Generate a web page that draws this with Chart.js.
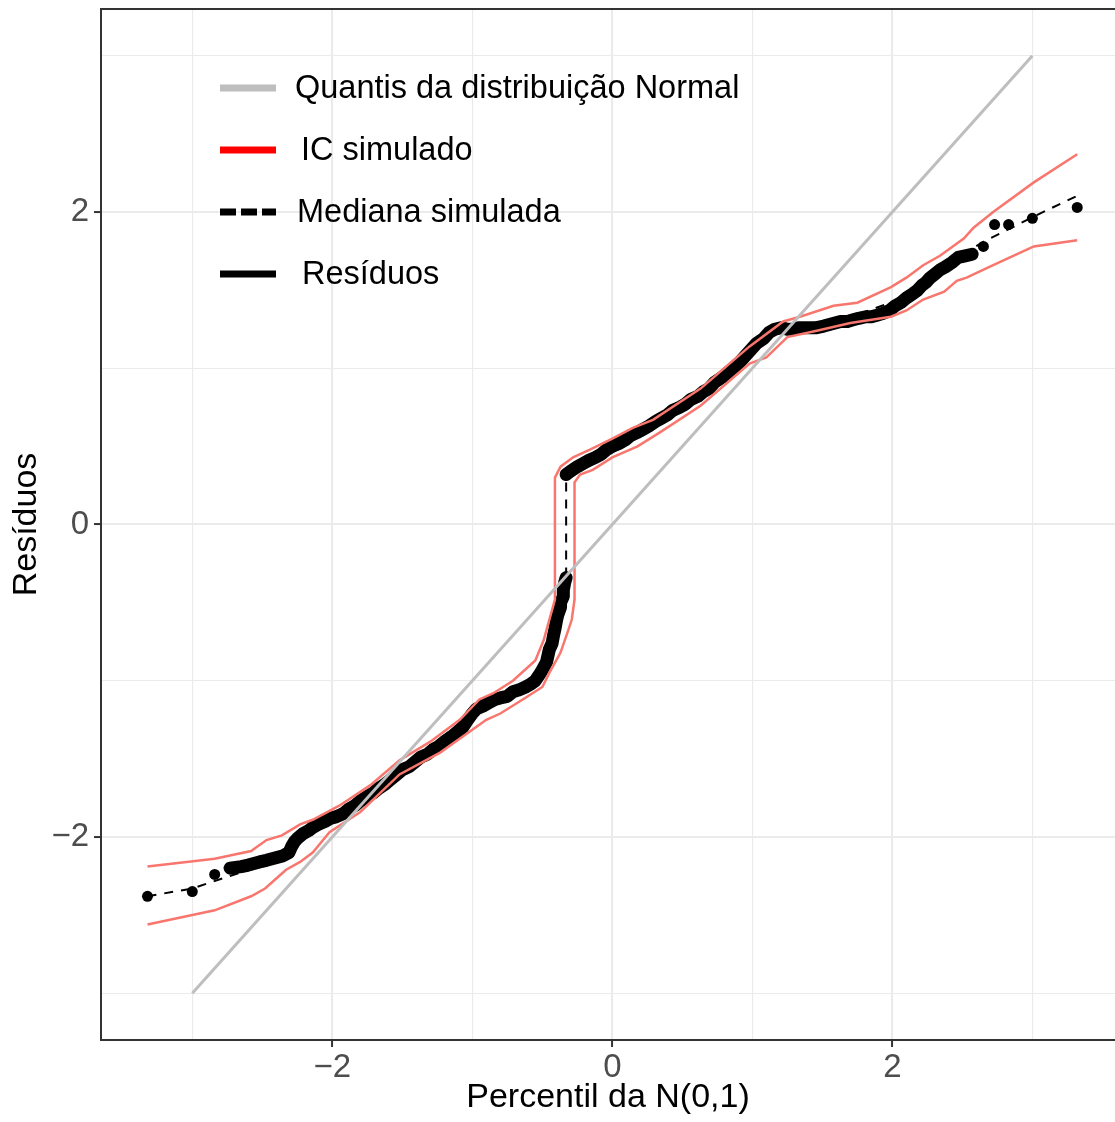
<!DOCTYPE html>
<html>
<head>
<meta charset="utf-8">
<script src="https://cdn.jsdelivr.net/npm/chart.js@4.4.0/dist/chart.umd.min.js"></script>
<style>
  html, body { margin: 0; padding: 0; background: #fff; overflow: hidden; }
  canvas { display: block; }
</style>
</head>
<body>
<canvas id="qq" width="1115" height="1122"></canvas>
<script>
// sample quantiles of the residuals against N(0,1) percentiles
const residX = [
  -3.32, -3.00, -2.84, -2.73, -2.65, -2.60, -2.56, -2.52, -2.47, -2.43,
  -2.39, -2.35, -2.31, -2.29, -2.27, -2.25, -2.21, -2.17, -2.14, -2.10,
  -2.05, -2.01, -1.97, -1.92, -1.88, -1.84, -1.80, -1.75, -1.71, -1.67,
  -1.62, -1.58, -1.54, -1.50, -1.45, -1.41, -1.37, -1.32, -1.28, -1.24,
  -1.20, -1.15, -1.11, -1.07, -1.04, -1.00, -0.97, -0.92, -0.88, -0.84,
  -0.80, -0.75, -0.71, -0.67, -0.62, -0.58, -0.55, -0.52, -0.50, -0.47,
  -0.46, -0.45, -0.43, -0.42, -0.41, -0.40, -0.39, -0.37, -0.37, -0.35,
  -0.35, -0.34, -0.33,
  -0.33, -0.30, -0.25, -0.21, -0.17, -0.12, -0.08, -0.04, 0.00, 0.05,
  0.09, 0.13, 0.18, 0.22, 0.26, 0.31, 0.35, 0.39, 0.43, 0.48,
  0.52, 0.56, 0.61, 0.65, 0.69, 0.73, 0.78, 0.82, 0.86, 0.91,
  0.95, 0.99, 1.03, 1.08, 1.12, 1.16, 1.21, 1.25, 1.29, 1.33,
  1.38, 1.42, 1.46, 1.51, 1.55, 1.59, 1.63, 1.68, 1.72, 1.76,
  1.81, 1.85, 1.89, 1.93, 1.98, 2.02, 2.06, 2.10, 2.15, 2.18,
  2.21, 2.24, 2.27, 2.30, 2.34, 2.38, 2.43, 2.47, 2.52, 2.57,
  2.65, 2.73, 2.83, 3.00, 3.32
];
const residY = [
  -2.38, -2.35, -2.24, -2.20, -2.19, -2.18, -2.17, -2.16, -2.15, -2.14,
  -2.13, -2.12, -2.10, -2.06, -2.03, -2.01, -1.98, -1.96, -1.94, -1.92,
  -1.90, -1.88, -1.87, -1.85, -1.82, -1.80, -1.77, -1.74, -1.72, -1.69,
  -1.66, -1.63, -1.60, -1.57, -1.55, -1.52, -1.49, -1.47, -1.44, -1.42,
  -1.39, -1.36, -1.33, -1.30, -1.26, -1.21, -1.18, -1.16, -1.14, -1.12,
  -1.11, -1.10, -1.07, -1.06, -1.04, -1.02, -1.00, -0.96, -0.93, -0.88,
  -0.84, -0.80, -0.76, -0.71, -0.67, -0.62, -0.58, -0.53, -0.50, -0.46,
  -0.42, -0.37, -0.34,
  0.32, 0.34, 0.37, 0.39, 0.41, 0.43, 0.45, 0.48, 0.50, 0.52,
  0.54, 0.57, 0.59, 0.61, 0.63, 0.66, 0.68, 0.70, 0.73, 0.75,
  0.77, 0.80, 0.82, 0.85, 0.87, 0.91, 0.94, 0.97, 1.00, 1.04,
  1.08, 1.12, 1.16, 1.19, 1.23, 1.25, 1.26, 1.25, 1.25, 1.26,
  1.26, 1.26, 1.26, 1.27, 1.28, 1.29, 1.30, 1.30, 1.31, 1.32,
  1.33, 1.33, 1.34, 1.35, 1.37, 1.40, 1.42, 1.45, 1.48, 1.50,
  1.53, 1.55, 1.58, 1.60, 1.63, 1.65, 1.68, 1.71, 1.72, 1.73,
  1.78, 1.92, 1.92, 1.96, 2.03
];

// simulated envelope: median and interval bounds
const medianX = [-3.32, -3.00, -2.63, -2.50, -2.30, -2.14, -1.95, -1.52, -0.95, -0.59, -0.48, -0.41, -0.36, -0.33,
  -0.33, -0.25, 0.00, 0.63, 1.12, 1.27, 1.77, 2.05, 2.34, 2.65, 3.03, 3.31];
const medianY = [-2.38, -2.33, -2.22, -2.19, -2.10, -1.96, -1.85, -1.58, -1.17, -1.03, -0.91, -0.68, -0.44, -0.34,
  0.30, 0.37, 0.50, 0.84, 1.23, 1.26, 1.35, 1.44, 1.64, 1.81, 1.98, 2.10];

const upperX = [-3.32, -2.84, -2.58, -2.47, -2.36, -2.23, -2.14, -1.95, -1.73, -1.52, -1.30, -1.09, -0.95, -0.85,
  -0.71, -0.55, -0.49, -0.45, -0.41, -0.41, -0.37, -0.28, -0.16, 0.00, 0.15, 0.29, 0.63, 0.98, 1.22, 1.34,
  1.58, 1.75, 1.99, 2.10, 2.22, 2.34, 2.51, 2.58, 2.72, 3.01, 3.32];
const upperY = [-2.19, -2.14, -2.09, -2.02, -1.99, -1.92, -1.89, -1.80, -1.67, -1.51, -1.39, -1.25, -1.12, -1.08,
  -1.00, -0.87, -0.74, -0.61, -0.48, 0.30, 0.37, 0.43, 0.48, 0.55, 0.62, 0.67, 0.87, 1.14, 1.30, 1.33,
  1.40, 1.42, 1.52, 1.58, 1.66, 1.72, 1.83, 1.90, 2.00, 2.19, 2.37];

const lowerX = [-3.32, -2.84, -2.58, -2.48, -2.38, -2.33, -2.23, -2.14, -2.02, -1.80, -1.52, -1.23, -0.90, -0.80,
  -0.64, -0.50, -0.45, -0.37, -0.32, -0.29, -0.27, -0.27, -0.23, -0.14, 0.00, 0.18, 0.34, 0.63, 0.98, 1.10,
  1.25, 1.46, 1.70, 1.99, 2.10, 2.22, 2.37, 2.46, 2.53, 2.72, 2.84, 3.01, 3.32];
const lowerY = [-2.56, -2.47, -2.38, -2.33, -2.25, -2.21, -2.16, -2.10, -1.97, -1.84, -1.60, -1.46, -1.25, -1.21,
  -1.12, -1.04, -0.95, -0.82, -0.69, -0.61, -0.48, 0.27, 0.32, 0.35, 0.43, 0.50, 0.59, 0.76, 1.03, 1.07,
  1.20, 1.24, 1.29, 1.33, 1.37, 1.44, 1.49, 1.56, 1.58, 1.66, 1.71, 1.78, 1.82];

// reference line y = x
const normalX = [-3, 3];
const normalY = [-3, 3];

const gridValues = [-3, -2, -1, 0, 1, 2, 3];
const labelledValues = [-2, 0, 2];

const legendKeys = [
  { label: 'Quantis da distribuição Normal', color: '#BEBEBE', dash: [], indent: 0 },
  { label: 'IC simulado', color: '#FF0000', dash: [], indent: 6 },
  { label: 'Mediana simulada', color: '#000000', dash: [16, 5], indent: 2 },
  { label: 'Resíduos', color: '#000000', dash: [], indent: 7 }
];

const FONT = '"Liberation Sans", Arial, Helvetica, sans-serif';
Chart.defaults.font.family = FONT;

const toPoints = (xs, ys) => xs.map((x, i) => ({ x, y: ys[i] }));
const isMajor = c => c.tick && labelledValues.includes(c.tick.value);
const fmt = v => (v < 0 ? '\u2212' + Math.abs(v) : String(v));

// keep the panel edges where the layout puts them, ignoring label overhang
const noOverhang = s => {
  s.paddingTop = 0;
  s.paddingBottom = 0;
  s.paddingLeft = 0;
  s.paddingRight = 0;
};

const panelBorder = {
  id: 'panelBorder',
  afterDraw (chart) {
    const { ctx, chartArea: a } = chart;
    ctx.save();
    ctx.strokeStyle = '#333333';
    ctx.lineWidth = 2;
    ctx.beginPath();
    ctx.moveTo(a.right + 5, a.top);
    ctx.lineTo(a.left, a.top);
    ctx.lineTo(a.left, a.bottom);
    ctx.lineTo(a.right + 5, a.bottom);
    ctx.stroke();
    ctx.restore();
  }
};

const insetLegend = {
  id: 'insetLegend',
  afterDraw (chart) {
    const { ctx } = chart;
    ctx.save();
    ctx.font = '32.5px ' + FONT;
    ctx.textBaseline = 'middle';
    legendKeys.forEach((key, i) => {
      const y = 88 + i * 62;
      ctx.beginPath();
      ctx.setLineDash(key.dash);
      ctx.lineWidth = 7;
      ctx.strokeStyle = key.color;
      ctx.moveTo(220, y);
      ctx.lineTo(276, y);
      ctx.stroke();
      ctx.setLineDash([]);
      ctx.fillStyle = '#000000';
      ctx.fillText(key.label, 295 + key.indent, y + 1);
    });
    ctx.restore();
  }
};

const gridOptions = {
  color: '#EBEBEB',
  lineWidth: c => (isMajor(c) ? 2.1 : 1.1),
  tickColor: c => (isMajor(c) ? '#333333' : 'rgba(0,0,0,0)'),
  tickLength: 7,
  tickWidth: 2
};

new Chart('qq', {
  type: 'scatter',
  data: {
    datasets: [
      { data: toPoints(normalX, normalY), showLine: true, borderColor: '#BEBEBE', borderWidth: 3, pointRadius: 0 },
      { data: toPoints(upperX, upperY), showLine: true, borderColor: '#F8766D', borderWidth: 2.5, pointRadius: 0 },
      { data: toPoints(lowerX, lowerY), showLine: true, borderColor: '#F8766D', borderWidth: 2.5, pointRadius: 0 },
      { data: toPoints(medianX, medianY), showLine: true, borderColor: '#000000', borderWidth: 2, borderDash: [9, 8], pointRadius: 0 },
      {
        data: toPoints(residX, residY),
        showLine: true,
        borderColor: '#000000',
        borderWidth: 13,
        borderCapStyle: 'round',
        borderJoinStyle: 'round',
        pointRadius: 5.5,
        pointBorderWidth: 0,
        pointBackgroundColor: '#000000',
        // only join neighbouring points that sit close together
        segment: {
          borderColor: c => (Math.hypot(c.p1.x - c.p0.x, c.p1.y - c.p0.y) > 12 ? 'rgba(0,0,0,0)' : '#000000')
        }
      }
    ]
  },
  options: {
    responsive: false,
    animation: false,
    layout: { autoPadding: false, padding: { top: 9, left: 0, right: 0, bottom: 0 } },
    plugins: { legend: { display: false }, tooltip: { enabled: false } },
    scales: {
      x: {
        type: 'linear',
        min: -3.652,
        max: 3.59,
        afterBuildTicks: s => { s.ticks = gridValues.map(v => ({ value: v })); },
        afterFit: s => { s.height = 82; noOverhang(s); },
        border: { display: false },
        grid: gridOptions,
        ticks: {
          autoSkip: false,
          maxRotation: 0,
          padding: 1,
          color: '#4D4D4D',
          font: { size: 33 },
          callback: v => (labelledValues.includes(v) ? fmt(v) : '')
        },
        title: { display: true, text: 'Percentil da N(0,1)', color: '#000000', font: { size: 34 }, padding: { top: 0, bottom: 4 } }
      },
      y: {
        type: 'linear',
        min: -3.3,
        max: 3.3,
        afterBuildTicks: s => { s.ticks = gridValues.map(v => ({ value: v })); },
        afterFit: s => { s.width = 101; noOverhang(s); },
        border: { display: false },
        grid: gridOptions,
        ticks: {
          autoSkip: false,
          padding: 5,
          color: '#4D4D4D',
          font: { size: 33 },
          callback: v => (labelledValues.includes(v) ? fmt(v) : '')
        },
        title: { display: true, text: 'Resíduos', color: '#000000', font: { size: 34 }, padding: { top: 6, bottom: 0 } }
      }
    }
  },
  plugins: [panelBorder, insetLegend]
});
</script>
</body>
</html>
